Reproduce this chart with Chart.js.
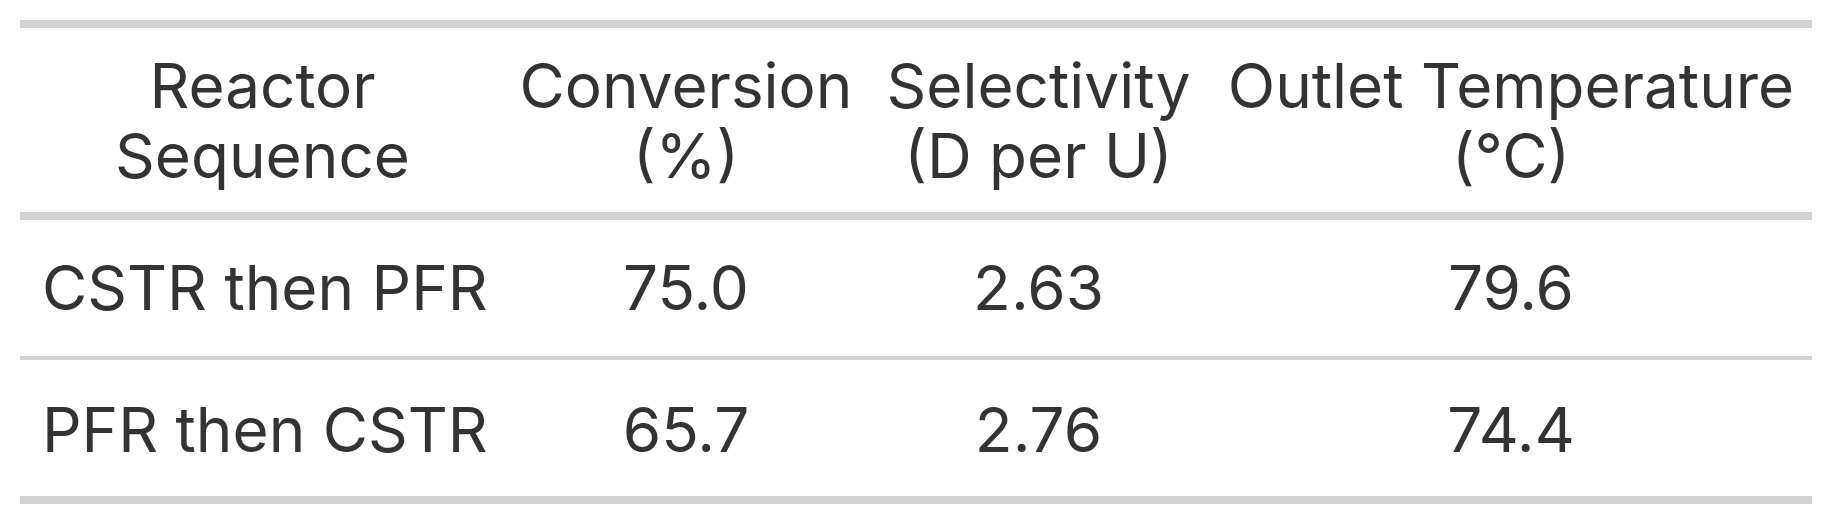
<!DOCTYPE html>
<html>
<head>
<meta charset="utf-8">
<script src="https://cdn.jsdelivr.net/npm/chart.js@4.4.1/dist/chart.umd.min.js"></script>
<style>
  html, body { margin: 0; padding: 0; background: #fff; }
  #wrap { width: 1832px; height: 524px; position: relative; }
</style>
</head>
<body>
<div id="wrap"><canvas id="table"></canvas></div>
<script>
// table content
const headers = [
  ['Reactor', 'Sequence'],
  ['Conversion', '(%)'],
  ['Selectivity', '(D per U)'],
  ['Outlet Temperature', '(°C)']
];
const sequences = ['CSTR then PFR', 'PFR then CSTR'];
const conversion = [75.0, 65.7];
const selectivity = [2.63, 2.76];
const outletTemp = [79.6, 74.4];

// layout (table units, drawn through the chart scales)
const colEdges = [0, 485, 847, 1190, 1792];
const rowEdges = [0, 192, 334, 476];
const FONT = '62px Inter, "Noto Sans", sans-serif';
const INK = '#333333';
const RULE = '#d3d3d3';

const mid = (a, i) => (a[i] + a[i + 1]) / 2;

const cellPoints = (row) => [0, 1, 2, 3].map(c => ({ x: mid(colEdges, c), y: mid(rowEdges, row) }));

const headerSet = {
  label: 'header',
  data: cellPoints(0),
  texts: headers,
  pointRadius: 0
};
const bodySets = sequences.map((s, i) => ({
  label: s,
  data: cellPoints(i + 1),
  texts: [[s], [conversion[i].toFixed(1)], [selectivity[i].toFixed(2)], [outletTemp[i].toFixed(1)]],
  pointRadius: 0
}));

const tablePlugin = {
  id: 'tableText',
  beforeDatasetsDraw(chart) {
    const { ctx, scales: { x, y } } = chart;
    const rules = [[rowEdges[0], 8], [rowEdges[1], 8], [rowEdges[2], 4], [rowEdges[3], 8]];
    ctx.save();
    ctx.fillStyle = RULE;
    for (const [v, w] of rules) {
      const py = y.getPixelForValue(v);
      const x0 = x.getPixelForValue(colEdges[0]);
      const x1 = x.getPixelForValue(colEdges[colEdges.length - 1]);
      ctx.fillRect(x0, py - w / 2, x1 - x0, w);
    }
    ctx.restore();
  },
  afterDatasetsDraw(chart) {
    const { ctx, scales: { x } } = chart;
    ctx.save();
    ctx.font = FONT;
    ctx.fillStyle = INK;
    ctx.textBaseline = 'alphabetic';
    const lineH = 70;
    chart.data.datasets.forEach((ds, di) => {
      const meta = chart.getDatasetMeta(di);
      meta.data.forEach((pt, i) => {
        const lines = ds.texts[i];
        const isBodyFirst = di > 0 && i === 0;
        let px = pt.x;
        if (isBodyFirst) {
          ctx.textAlign = 'left';
          px = x.getPixelForValue(colEdges[0]) + 22;
        } else {
          ctx.textAlign = 'center';
        }
        const top = pt.y - (lines.length - 1) * lineH / 2;
        lines.forEach((t, k) => {
          ctx.fillText(t, px, top + k * lineH + 23);
        });
      });
    });
    ctx.restore();
  }
};

new Chart(document.getElementById('table'), {
  type: 'scatter',
  data: { datasets: [headerSet, ...bodySets] },
  options: {
    responsive: true,
    maintainAspectRatio: false,
    animation: false,
    devicePixelRatio: 1,
    layout: { padding: { left: 20, right: 20, top: 24, bottom: 24 } },
    plugins: { legend: { display: false }, tooltip: { enabled: false } },
    scales: {
      x: { type: 'linear', display: false, min: colEdges[0], max: colEdges[colEdges.length - 1] },
      y: { type: 'linear', display: false, reverse: true, min: rowEdges[0], max: rowEdges[rowEdges.length - 1] }
    }
  },
  plugins: [tablePlugin]
});
</script>
</body>
</html>
